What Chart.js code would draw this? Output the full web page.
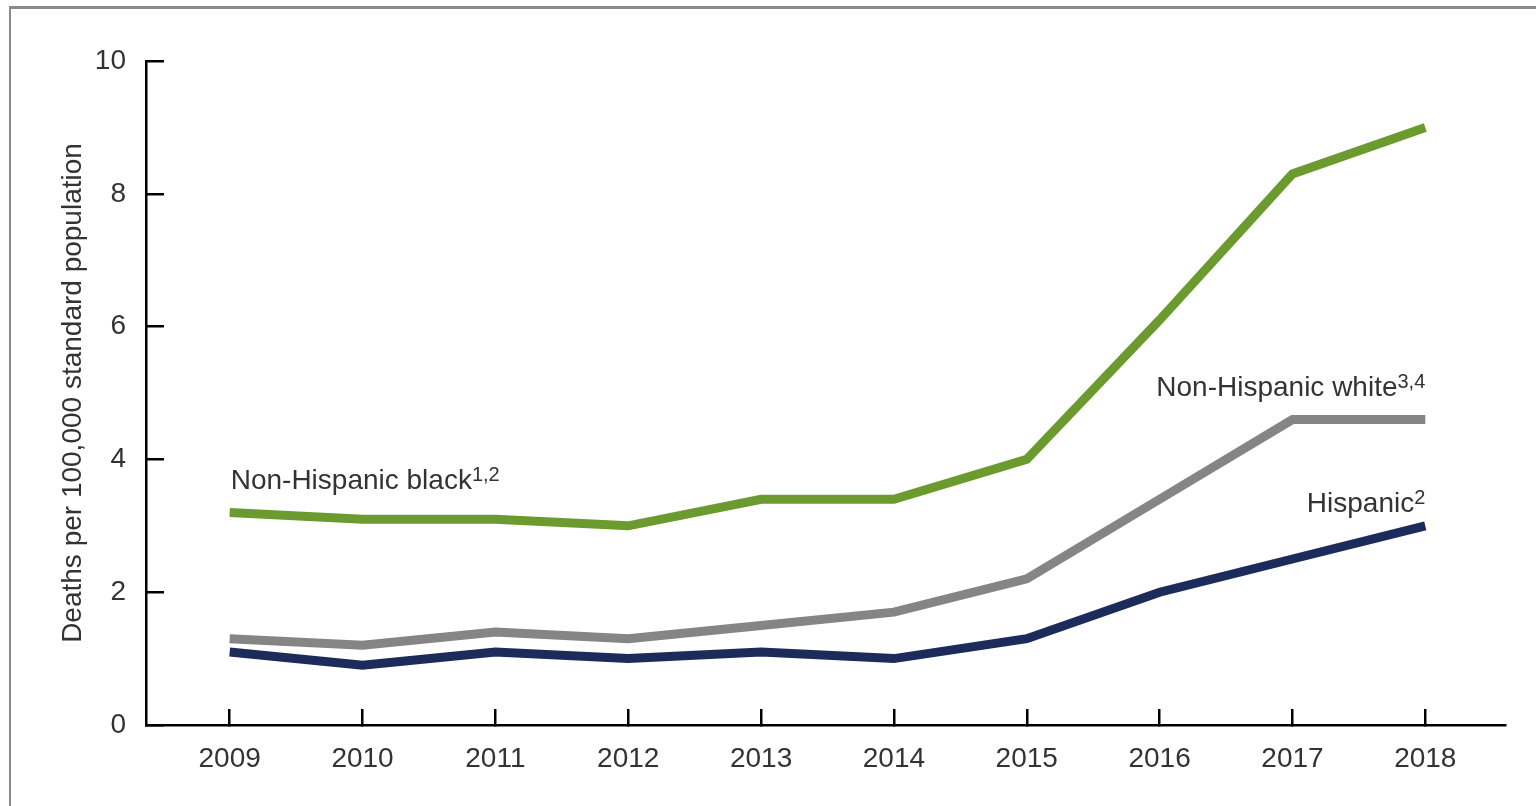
<!DOCTYPE html>
<html>
<head>
<meta charset="utf-8">
<script src="https://cdn.jsdelivr.net/npm/chart.js@4/dist/chart.umd.min.js"></script>
<style>
  html, body { margin: 0; padding: 0; background: #fff; overflow: hidden; }
  #frame { position: absolute; left: 9px; top: 6px; width: 1600px; height: 900px;
           border-left: 2px solid #8a8a8a; border-top: 3px solid #8a8a8a; box-sizing: border-box; }
  #wrap { position: absolute; left: 0; top: 0; width: 1536px; height: 806px; }
</style>
</head>
<body>
<div id="frame"></div>
<div id="wrap"><canvas id="c" width="1536" height="806"></canvas></div>
<script>
const years = [2009, 2010, 2011, 2012, 2013, 2014, 2015, 2016, 2017, 2018];
const nhBlack = [3.2, 3.1, 3.1, 3.0, 3.4, 3.4, 4.0, 6.1, 8.3, 9.0];
const nhWhite = [1.3, 1.2, 1.4, 1.3, 1.5, 1.7, 2.2, 3.4, 4.6, 4.6];
const hispanic = [1.1, 0.9, 1.1, 1.0, 1.1, 1.0, 1.3, 2.0, 2.5, 3.0];
const yTicks = [0, 2, 4, 6, 8, 10];
const yTitle = 'Deaths per 100,000 standard population';
const seriesLabels = [
  { name: 'Non-Hispanic black', sup: '1,2' },
  { name: 'Non-Hispanic white', sup: '3,4' },
  { name: 'Hispanic', sup: '2' }
];

const FONT = '"Liberation Sans", Arial, sans-serif';
const TXT = '#333333';

function pts(arr) { return arr.map((v, i) => ({ x: years[i], y: v })); }

const labelPlugin = {
  id: 'seriesLabels',
  afterDatasetsDraw(chart) {
    const { ctx, scales: { x, y } } = chart;
    ctx.save();
    ctx.fillStyle = TXT;
    ctx.textBaseline = 'alphabetic';
    function draw(text, sup, px, py, align) {
      ctx.font = '28px ' + FONT;
      const w = ctx.measureText(text).width;
      ctx.font = '20px ' + FONT;
      const ws = ctx.measureText(sup).width;
      let x0 = align === 'right' ? px - w - ws : px;
      ctx.font = '28px ' + FONT;
      ctx.textAlign = 'left';
      ctx.fillText(text, x0, py);
      ctx.font = '20px ' + FONT;
      ctx.fillText(sup, x0 + w, py - 8);
    }
    draw(seriesLabels[0].name, seriesLabels[0].sup, x.getPixelForValue(years[0]) + 1, y.getPixelForValue(nhBlack[0]) - 24, 'left');
    draw(seriesLabels[1].name, seriesLabels[1].sup, x.getPixelForValue(years[9]), y.getPixelForValue(nhWhite[9]) - 24, 'right');
    draw(seriesLabels[2].name, seriesLabels[2].sup, x.getPixelForValue(years[9]), y.getPixelForValue(hispanic[9]) - 14, 'right');
    ctx.restore();
  }
};

new Chart(document.getElementById('c'), {
  type: 'line',
  data: {
    datasets: [
      { label: seriesLabels[0].name, data: pts(nhBlack), borderColor: '#6b9b2f', borderWidth: 9 },
      { label: seriesLabels[1].name, data: pts(nhWhite), borderColor: '#858585', borderWidth: 9 },
      { label: seriesLabels[2].name, data: pts(hispanic), borderColor: '#1c2b59', borderWidth: 9 }
    ]
  },
  options: {
    responsive: false,
    animation: false,
    events: [],
    elements: { point: { radius: 0 }, line: { tension: 0, borderCapStyle: 'butt', borderJoinStyle: 'miter' } },
    layout: { padding: { left: 0, right: 31, top: 61, bottom: 0 } },
    plugins: { legend: { display: false }, tooltip: { enabled: false } },
    scales: {
      x: {
        type: 'linear',
        min: 2008.37,
        max: 2018.6,
        afterBuildTicks(scale) { scale.ticks = years.map(v => ({ value: v })); },
        afterFit(scale) { scale.height = 806 - 725; },
        grid: { drawOnChartArea: false, tickLength: -16, color: '#000', lineWidth: 2.5 },
        border: { display: true, color: '#000', width: 2.5 },
        ticks: { padding: 33, color: TXT, font: { family: FONT, size: 28 }, callback: v => String(v), autoSkip: false, maxRotation: 0 }
      },
      y: {
        min: 0,
        max: 10,
        afterBuildTicks(scale) { scale.ticks = yTicks.map(v => ({ value: v })); },
        afterFit(scale) { scale.width = 146; },
        grid: { drawOnChartArea: false, tickLength: -18, color: '#000', lineWidth: 2.5 },
        border: { display: true, color: '#000', width: 2.5 },
        ticks: { padding: 38, color: TXT, font: { family: FONT, size: 28 } },
        title: { display: true, text: yTitle, color: TXT, font: { family: FONT, size: 28 }, padding: { top: 56, bottom: 0 } }
      }
    }
  },
  plugins: [labelPlugin]
});
</script>
</body>
</html>
